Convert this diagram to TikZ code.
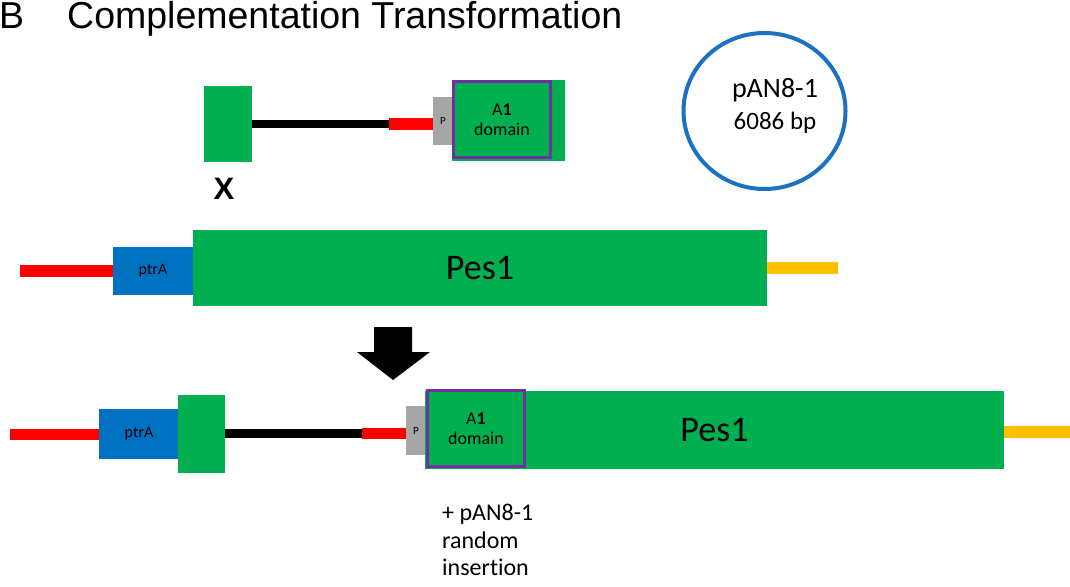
\documentclass[tikz,border=0pt]{standalone}
\usepackage{fontspec}
\setmainfont[Ligatures=NoCommon]{Carlito}
\newfontfamily\headfont{Liberation Sans}
\usetikzlibrary{shapes.geometric}

\definecolor{genegreen}{HTML}{00B050}
\definecolor{flankred}{HTML}{FF0000}
\definecolor{markerblue}{HTML}{0070C0}
\definecolor{tailyellow}{HTML}{FFC000}
\definecolor{domainpurple}{HTML}{7030A0}
\definecolor{promgray}{HTML}{A6A6A6}
\definecolor{plasmidblue}{HTML}{1C72C2}

\newcommand{\fs}[1]{\fontsize{#1}{#1}\selectfont}

\begin{document}
\begin{tikzpicture}[x=1pt,y=-1pt,
  box/.style={rectangle,inner sep=0pt,outer sep=0pt,draw=none},
  genebox/.style={box,fill=genegreen},
  markerbox/.style={box,fill=markerblue,font=\fs{16}},
  prombox/.style={box,fill=promgray,font=\fs{11}},
  domainbox/.style={box,draw=domainpurple,line width=3pt,fill=genegreen,
    align=center,font=\fontsize{18}{20}\selectfont},
  flank/.style={flankred,line width=#1},
  tail/.style={tailyellow,line width=12pt},
  linker/.style={black,line width=#1},
  genetext/.style={font=\fs{36}},
  note/.style={anchor=base west,inner sep=0pt,font=\fs{24}}
]
\useasboundingbox (0,0) rectangle (1070,586);

% heading
\node[anchor=base west,inner sep=0pt,font=\headfont\fs{37.5}] (lbl) at (-1,29) {B};
\node[anchor=base west,inner sep=0pt,font=\headfont\fs{37.5}] (ttl) at (67,29) {Complementation Transformation};

% complementation construct
\node[genebox,minimum width=48,minimum height=76] (g1) at (228,124) {};
\coordinate (j1) at (389,124);
\node[prombox,minimum width=20,minimum height=48] (p1) at (443,121) {P};
\draw[linker=8pt] (g1.east) -- (j1);
\draw[flank=12pt] (j1) -- (p1.west |- j1);
\node[genebox,minimum width=113,minimum height=81] (e1) at (508.5,120.5) {};
\node[domainbox,minimum width=97,minimum height=76] (a1) at (502,119.5) {A\textbf{1}\\domain};
\node[font=\headfont\bfseries\fs{31}] (x) at (224,189) {X};

% plasmid
\node[draw=plasmidblue,line width=4pt,ellipse,minimum width=162,minimum height=156] (pl) at (764.5,111) {};
\node[anchor=base,font=\fs{28}] (pln) at (775,97) {pAN8-1};
\node[anchor=base,font=\fs{25}] (pls) at (775,129) {6086 bp};

% recipient locus
\coordinate (m0) at (20,271);
\node[markerbox,minimum width=80,minimum height=48] (b0) at (153,271) {ptrA};
\draw[flank=12pt] (m0) -- (b0.west);
\node[genebox,genetext,minimum width=574,minimum height=76] (G0) at (480,268) {Pes1};
\coordinate (t0) at (838,268);
\draw[tail] (G0.east) -- (t0);

% arrow
\fill[black] (374,327) -- (412,327) -- (412,352) -- (430,352) -- (393,380)
  -- (357,352) -- (374,352) -- cycle;

% complemented locus
\coordinate (m2) at (10,434);
\node[markerbox,minimum width=80,minimum height=50] (b2) at (139,434) {ptrA};
\draw[flank=11pt] (m2) -- (b2.west);
\node[genebox,minimum width=47,minimum height=78] (g2) at (201.5,433.5) {};
\coordinate (j2) at (362,433.5);
\node[prombox,minimum width=20,minimum height=49] (p2) at (416,430.5) {P};
\draw[linker=9pt] (g2.east) -- (j2);
\draw[flank=11pt] (j2) -- (p2.west |- j2);
\node[genebox,genetext,minimum width=579,minimum height=78] (G2) at (714.5,430) {Pes1};
\node[domainbox,minimum width=97,minimum height=76] (a2) at (476,428.5) {A\textbf{1}\\domain};
\coordinate (t2) at (1070,432);
\draw[tail] (G2.east |- t2) -- (t2);

% insertion note
\node[note] (n1) at (442,520) {+ pAN8-1};
\node[note] (n2) at (442,548) {random};
\node[note] (n3) at (442,575) {insertion};
\end{tikzpicture}
\end{document}
